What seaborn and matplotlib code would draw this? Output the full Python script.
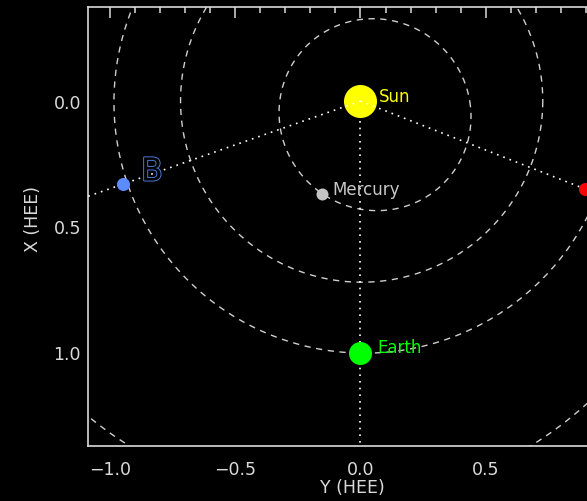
import numpy as np
import pandas as pd
import matplotlib
matplotlib.use("Agg")
import matplotlib.pyplot as plt
import matplotlib.patheffects as pe
from matplotlib.ticker import MultipleLocator, FixedLocator, FuncFormatter
import seaborn as sns

# Body positions in HEE coordinates (AU): Y horizontal, X vertical
bodies = ["Sun", "Mercury", "Earth", "B", "A"]
body_y = [0.0, -0.152, 0.0, -0.948, 0.896]
body_x = [0.0, 0.370, 1.004, 0.331, 0.350]
body_colors = ["#ffff00", "#c4c4c4", "#00ff00", "#5b8cff", "#ff0000"]
body_sizes = [566, 75, 275, 88, 88]

# Planetary orbits: semi-major axis (AU), eccentricity, perihelion angle in plot frame (deg)
orbit_names = ["Mercury", "Venus", "Earth", "Mars"]
orbit_a = [0.387, 0.723, 1.000, 1.524]
orbit_e = [0.2056, 0.0068, 0.0167, 0.0934]
orbit_peri = [-137.0, 169.0, -162.5, -35.5]

# Rays drawn from the Sun through these bodies
ray_targets = ["B", "A", "Earth"]

# Labelled ticks
y_ticks = [-1.0, -0.5, 0.0, 0.5]
x_ticks = [0.0, 0.5, 1.0]

fg = "#dadada"
sns.set_theme(style="dark", rc={
    "figure.facecolor": "black",
    "axes.facecolor": "black",
    "axes.edgecolor": fg,
    "text.color": fg,
    "xtick.color": fg,
    "ytick.color": fg,
    "axes.labelcolor": fg,
})
plt.rcParams["font.family"] = ["DejaVu Sans"]

fig = plt.figure(figsize=(5.87, 5.02), dpi=100)
ax = fig.add_axes([88 / 587, 55 / 502, 545 / 587, 439 / 502])

# Orbits
theta = np.linspace(0, 2 * np.pi, 721)
for name, a, e, wp in zip(orbit_names, orbit_a, orbit_e, orbit_peri):
    r = a * (1 - e ** 2) / (1 + e * np.cos(theta - np.deg2rad(wp)))
    df = pd.DataFrame({"Y": r * np.cos(theta), "X": r * np.sin(theta)})
    sns.lineplot(data=df, x="Y", y="X", sort=False, estimator=None, ax=ax,
                 color="#cfcfcf", lw=1.0, linestyle=(0, (4.5, 4)), zorder=1)

pos = {n: (y, x) for n, y, x in zip(bodies, body_y, body_x)}

# Sun
sns.scatterplot(x=[pos["Sun"][0]], y=[pos["Sun"][1]], s=body_sizes[0],
                color=body_colors[0], linewidth=0, ax=ax, zorder=2)

# Sun-to-body rays, extended past the body to the plot edge
for t in ray_targets:
    ty, tx = pos[t]
    ray = pd.DataFrame({"Y": [0.0, 3 * ty], "X": [0.0, 3 * tx]})
    sns.lineplot(data=ray, x="Y", y="X", sort=False, estimator=None, ax=ax,
                 color="white", lw=1.2, linestyle=(0, (1, 3)),
                 zorder=3 if t != "Earth" else 1.5)

# Remaining bodies
for n, y, x, c, s in zip(bodies[1:], body_y[1:], body_x[1:], body_colors[1:], body_sizes[1:]):
    sns.scatterplot(x=[y], y=[x], s=s, color=c, linewidth=0, ax=ax, zorder=4)

# Labels
ax.annotate("Sun", pos["Sun"], xytext=(18, 5), textcoords="offset pixels",
            color="#ffff00", fontsize=12, ha="left", va="center", zorder=5)
ax.annotate("Mercury", pos["Mercury"], xytext=(10, 5), textcoords="offset pixels",
            color="#c8c8c8", fontsize=12, ha="left", va="center", zorder=5)
ax.annotate("Earth", pos["Earth"], xytext=(17, 6), textcoords="offset pixels",
            color="#00ff00", fontsize=12, ha="left", va="center", zorder=5)
ax.annotate("B", pos["B"], xytext=(29, 12), textcoords="offset pixels",
            color="black", fontsize=23, ha="center", va="center", zorder=5,
            path_effects=[pe.withStroke(linewidth=1.3, foreground="#4f82e8")])

ax.set_xlim(-1.0876, 1.088)
ax.set_ylim(1.375, -0.375)

ax.xaxis.set_major_locator(FixedLocator(y_ticks))
ax.xaxis.set_minor_locator(MultipleLocator(0.1))
ax.yaxis.set_major_locator(FixedLocator(x_ticks))
ax.yaxis.set_minor_locator(MultipleLocator(0.1))
fmt = FuncFormatter(lambda v, p: f"{v:.1f}".replace("-", "\u2212") if abs(v) > 1e-9 else "0.0")
ax.xaxis.set_major_formatter(fmt)
ax.yaxis.set_major_formatter(fmt)
ax.tick_params(which="both", direction="in", top=True, right=True, width=1.1, colors=fg,
               labelsize=12.5)
ax.tick_params(which="major", length=8)
ax.tick_params(which="minor", length=4.3)
ax.tick_params(axis="x", which="major", pad=10)
ax.tick_params(axis="y", which="major", pad=5)
for sp in ax.spines.values():
    sp.set_color(fg)
    sp.set_linewidth(1.2)
ax.grid(False)

ax.set_xlabel("")
ax.set_ylabel("")
ax.text(0.485, -0.0935, "Y (HEE)", transform=ax.transAxes, ha="center", va="center",
        fontsize=12.5, color=fg)
ax.text(-0.101, 0.52, "X (HEE)", transform=ax.transAxes, ha="center", va="center",
        rotation=90, fontsize=12.5, color=fg)

fig.savefig("out.png", dpi=100, facecolor="black")
